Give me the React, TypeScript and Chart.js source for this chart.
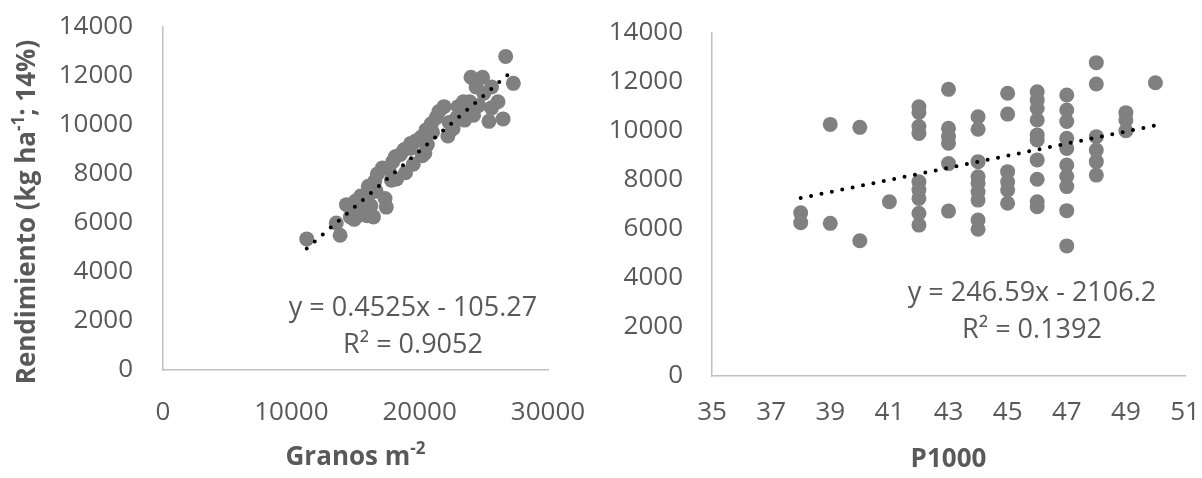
import React, { useEffect, useRef } from 'react';
import { Chart, registerables } from 'chart.js';

Chart.register(...registerables);

// ---- data ----
const granosX = [11200, 13800, 13500, 14300, 14600, 14900, 15400, 15000, 15900, 16400, 16200, 15800, 17400, 17300, 16500, 16700, 17100, 17800, 18100, 18900, 19300, 20200, 18800, 19300, 20100, 20500, 20900, 20400, 21500, 21900, 22200, 22600, 23000, 23400, 23500, 23900, 24000, 24400, 24900, 25600, 26100, 25600, 26500, 25400, 26700, 27300, 24600, 22900, 21000, 19700, 18500, 17600, 16600, 16000, 14800, 15600, 18200, 19500, 21300, 22300, 24200, 25000, 16100, 23700, 20600, 17900, 15200];
const granosY = [5350, 5500, 6000, 6750, 6250, 6150, 7100, 6900, 6300, 6250, 6700, 7000, 6650, 7000, 7700, 8000, 8250, 7750, 8700, 8050, 9050, 8750, 9000, 9250, 9500, 9800, 10050, 8850, 10550, 10750, 9550, 9850, 10750, 10950, 10200, 10950, 11950, 11550, 11950, 11550, 10950, 10700, 10250, 10150, 12800, 11700, 10800, 10300, 9700, 9350, 8800, 8200, 7300, 7500, 6650, 6600, 7800, 8400, 10300, 10100, 10400, 11300, 7200, 10500, 9200, 8500, 6300];

const p1000X = [38, 38, 39, 39, 40, 40, 41,
  42, 42, 42, 42, 42, 42, 42, 42, 42,
  43, 43, 43, 43, 43, 43,
  44, 44, 44, 44, 44, 44, 44, 44, 44,
  45, 45, 45, 45, 45, 45,
  46, 46, 46, 46, 46, 46, 46, 46, 46, 46,
  47, 47, 47, 47, 47, 47, 47, 47, 47, 47,
  48, 48, 48, 48, 48, 48,
  49, 49, 49, 50];
const p1000Y = [6660, 6260, 10270, 6230, 10150, 5520, 7110,
  10990, 10760, 10180, 9900, 7930, 7600, 7250, 6640, 6160,
  11700, 10110, 9770, 9500, 8670, 6730,
  10580, 10070, 8750, 8130, 7870, 7520, 7180, 6370, 5990,
  11540, 10690, 8340, 7930, 7590, 7050,
  11600, 11270, 10930, 10450, 9840, 9630, 8820, 8030, 7110, 6910,
  11470, 10860, 10390, 9700, 9290, 8610, 8140, 7730, 6750, 5310,
  12790, 11920, 9770, 9220, 8750, 8200,
  10750, 10450, 10010, 11970];

const yTicks = [0, 2000, 4000, 6000, 8000, 10000, 12000, 14000];
const granosTicks = [0, 10000, 20000, 30000];
const p1000Ticks = [35, 37, 39, 41, 43, 45, 47, 49, 51];

const granosFit = [0.4525, -105.27];
const p1000Fit = [246.59, -2106.2];
const granosEquation = ['y = 0.4525x - 105.27', 'R² = 0.9052'];
const p1000Equation = ['y = 246.59x - 2106.2', 'R² = 0.1392'];

const TXT = '#595959';
const FONT = '"Open Sans", "Liberation Sans", sans-serif';

function drawSup(ctx: CanvasRenderingContext2D, parts: { t: string; sup?: boolean }[], cx: number, cy: number) {
  const big = `bold 26px ${FONT}`;
  const small = `bold 17px ${FONT}`;
  let total = 0;
  const widths = parts.map((p) => {
    ctx.font = p.sup ? small : big;
    const w = ctx.measureText(p.t).width;
    total += w;
    return w;
  });
  let x = cx - total / 2;
  ctx.textAlign = 'left';
  ctx.textBaseline = 'middle';
  parts.forEach((p, i) => {
    ctx.font = p.sup ? small : big;
    ctx.fillText(p.t, x, p.sup ? cy - 9 : cy);
    x += widths[i];
  });
}

function makeTextPlugin(opts: {
  eq: string[]; eqX: number; eqY: number;
  xTitle: { t: string; sup?: boolean }[]; xTitleY: number;
  yTitle?: { t: string; sup?: boolean }[]; yTitleX?: number; yTitleY?: number;
}) {
  return {
    id: 'extraText',
    afterDraw(chart: any) {
      const ctx: CanvasRenderingContext2D = chart.ctx;
      const area = chart.chartArea;
      ctx.save();
      ctx.fillStyle = TXT;
      ctx.font = `27px ${FONT}`;
      ctx.textAlign = 'center';
      ctx.textBaseline = 'middle';
      opts.eq.forEach((t, i) => ctx.fillText(t, opts.eqX, opts.eqY + i * 37));
      drawSup(ctx, opts.xTitle, (area.left + area.right) / 2, opts.xTitleY);
      if (opts.yTitle) {
        ctx.save();
        ctx.translate(opts.yTitleX!, opts.yTitleY!);
        ctx.rotate(-Math.PI / 2);
        drawSup(ctx, opts.yTitle, 0, 0);
        ctx.restore();
      }
      ctx.restore();
    },
  };
}

function buildConfig(p: {
  xs: number[]; ys: number[]; fit: number[]; xTicks: number[];
  xMin: number; xMax: number; padding: any; yWidth: number; xHeight: number;
  xTickPad: number; yTickPad: number; plugin: any;
}) {
  const pts = p.xs.map((x, i) => ({ x, y: p.ys[i] }));
  const lo = Math.min(...p.xs);
  const hi = Math.max(...p.xs);
  const trend = [lo, hi].map((x) => ({ x, y: p.fit[0] * x + p.fit[1] }));
  const tickFont = { family: FONT, size: 26 };
  return {
    type: 'scatter' as const,
    data: {
      datasets: [
        {
          type: 'line' as const,
          data: trend,
          borderColor: '#000000',
          borderWidth: 4,
          borderDash: [0, 10.6],
          borderCapStyle: 'round' as const,
          pointRadius: 0,
          fill: false,
        },
        {
          data: pts,
          backgroundColor: '#808080',
          borderWidth: 0,
          pointRadius: 7.5,
          pointHoverRadius: 7.5,
        },
      ],
    },
    options: {
      animation: false as const,
      responsive: false,
      devicePixelRatio: 1,
      layout: { padding: p.padding },
      plugins: { legend: { display: false }, tooltip: { enabled: false } },
      scales: {
        x: {
          type: 'linear' as const,
          min: p.xMin,
          max: p.xMax,
          afterBuildTicks: (s: any) => { s.ticks = p.xTicks.map((v) => ({ value: v })); },
          afterFit: (s: any) => { s.height = p.xHeight; s.paddingLeft = 0; s.paddingRight = 0; },
          grid: { display: false, drawTicks: false },
          border: { display: true, color: '#C0C0C0', width: 1.5 },
          ticks: { color: TXT, font: tickFont, padding: p.xTickPad, maxRotation: 0, autoSkip: false, callback: (v: any) => String(v) },
        },
        y: {
          type: 'linear' as const,
          min: 0,
          max: 14000,
          afterBuildTicks: (s: any) => { s.ticks = yTicks.map((v) => ({ value: v })); },
          afterFit: (s: any) => { s.width = p.yWidth; s.paddingTop = 0; s.paddingBottom = 0; },
          grid: { display: false, drawTicks: false },
          border: { display: true, color: '#C0C0C0', width: 1.5 },
          ticks: { color: TXT, font: tickFont, padding: p.yTickPad, autoSkip: false, callback: (v: any) => String(v) },
        },
      },
    },
    plugins: [p.plugin],
  };
}

export default function App() {
  const leftRef = useRef<HTMLCanvasElement>(null);
  const rightRef = useRef<HTMLCanvasElement>(null);

  useEffect(() => {
    const left = new Chart(leftRef.current!, buildConfig({
      xs: granosX, ys: granosY, fit: granosFit, xTicks: granosTicks,
      xMin: 0, xMax: 30000,
      padding: { left: 0, top: 27, right: 53, bottom: 0 },
      yWidth: 163, xHeight: 108, xTickPad: 27, yTickPad: 30,
      plugin: makeTextPlugin({
        eq: granosEquation, eqX: 413, eqY: 308,
        xTitle: [{ t: 'Granos m' }, { t: '-2', sup: true }], xTitleY: 458,
        yTitle: [{ t: 'Rendimiento (kg ha' }, { t: '-1', sup: true }, { t: '; 14%)' }],
        yTitleX: 28, yTitleY: 212,
      }),
    }) as any);
    const right = new Chart(rightRef.current!, buildConfig({
      xs: p1000X, ys: p1000Y, fit: p1000Fit, xTicks: p1000Ticks,
      xMin: 35, xMax: 51,
      padding: { left: 0, top: 33, right: 17, bottom: 0 },
      yWidth: 111, xHeight: 102, xTickPad: 21, yTickPad: 29,
      plugin: makeTextPlugin({
        eq: p1000Equation, eqX: 431, eqY: 293,
        xTitle: [{ t: 'P1000' }], xTitleY: 460,
      }),
    }) as any);
    let alive = true;
    if ((document as any).fonts && (document as any).fonts.ready) {
      (document as any).fonts.ready.then(() => {
        if (alive) { left.update('none'); right.update('none'); }
      });
    }
    return () => {
      alive = false;
      left.destroy();
      right.destroy();
    };
  }, []);

  return (
    <div style={{ position: 'fixed', left: 0, top: 0, width: 1202, height: 478, background: '#ffffff' }}>
      <canvas ref={leftRef} width={601} height={478} style={{ position: 'absolute', left: 0, top: 0, width: 601, height: 478 }} />
      <canvas ref={rightRef} width={601} height={478} style={{ position: 'absolute', left: 601, top: 0, width: 601, height: 478 }} />
    </div>
  );
}
